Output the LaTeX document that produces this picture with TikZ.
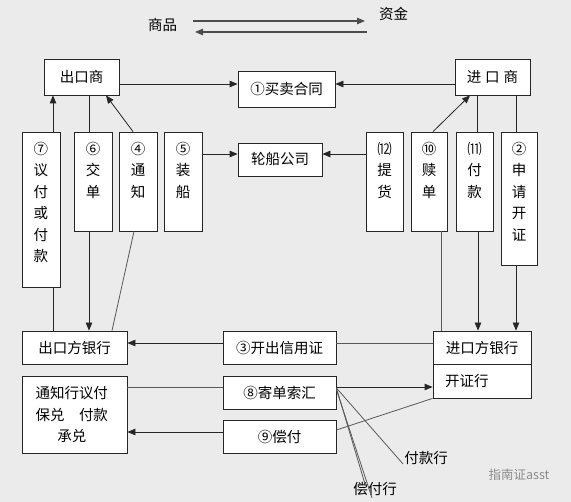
\documentclass[tikz,border=0pt]{standalone}
\usepackage{fontspec}
\setmainfont{Noto Sans CJK SC}
\usetikzlibrary{arrows.meta}
\definecolor{bgc}{RGB}{235,235,235}
\begin{document}
\begin{tikzpicture}[x=1pt,y=-1pt,
  box/.style={draw=black!85, fill=white, line width=0.8pt, inner sep=0pt, font=\fontsize{14.5}{21.5}\selectfont},
  vtxt/.style={inner sep=0pt, align=center, font=\fontsize{14.5}{21.5}\selectfont, anchor=north},
  lbl/.style={inner sep=0pt, font=\fontsize{14.5}{21.5}\selectfont},
  conn/.style={draw=black!85, line width=0.8pt},
  pale/.style={draw=black!65, line width=0.8pt},
  arr/.style={conn, -{Triangle[length=8pt,width=6.5pt]}}]
\fill[bgc] (0,0) rectangle (571,502);
\useasboundingbox (0,0) rectangle (571,502);

% legend
\node[lbl] (sp) at (162.5,25) {商品};
\node[lbl] (zj) at (393.5,14) {资金};
\coordinate (l1a) at (193,21); \coordinate (l1b) at (365,21);
\coordinate (l2a) at (367,32); \coordinate (l2b) at (195,32);
\draw[arr, draw=black!70, line width=1.2pt] (l1a) -- (l1b);
\draw[arr, draw=black!70, line width=1.2pt] (l2a) -- (l2b);

% top row
\node[box, minimum width=75pt, minimum height=36pt] (ck) at (81.5,77) {出口商};
\node[box, minimum width=97pt, minimum height=36pt] (ht) at (286.5,89) {①买卖合同};
\node[box, minimum width=75pt, minimum height=36pt] (jk) at (492.5,77) {进\hspace{4pt}口\hspace{4pt}商};
\node[box, minimum width=84pt, minimum height=33pt] (lc) at (280,159.5) {轮船公司};

% vertical boxes
\node[box, minimum width=38pt, minimum height=155pt] (b7) at (41,209.5) {};
\node[box, minimum width=38pt, minimum height=99pt] (b6) at (93,181.5) {};
\node[box, minimum width=38pt, minimum height=99pt] (b4) at (138,181.5) {};
\node[box, minimum width=38pt, minimum height=99pt] (b5) at (183,181.5) {};
\node[box, minimum width=37pt, minimum height=99pt] (b12) at (384.5,181.5) {};
\node[box, minimum width=36pt, minimum height=99pt] (b10) at (429,181.5) {};
\node[box, minimum width=37pt, minimum height=99pt] (b11) at (474.5,181.5) {};
\node[box, minimum width=36pt, minimum height=133pt] (b2) at (519,198.5) {};
\node[vtxt] (t7) at (41,142) {⑦\\议\\付\\或\\付\\款};
\node[vtxt] (t6) at (93,142) {⑥\\交\\单};
\node[vtxt] (t4) at (138,142) {④\\通\\知};
\node[vtxt] (t5) at (183,142) {⑤\\装\\船};
\node[vtxt] (t12) at (384.5,142) {⑿\\提\\货};
\node[vtxt] (t10) at (429,142) {⑩\\赎\\单};
\node[vtxt] (t11) at (474.5,142) {⑾\\付\\款};
\node[vtxt] (t2) at (519,142) {②\\申\\请\\开\\证};

% bottom rows
\node[box, minimum width=105pt, minimum height=33pt] (ckb) at (74.5,347.5) {出口方银行};
\node[box, minimum width=113pt, minimum height=33pt] (kc) at (279.5,347.5) {③开出信用证};
\node[box, minimum width=98pt, minimum height=33pt] (jb) at (482,347.5) {进口方银行};
\node[box, minimum width=98pt, minimum height=34pt, text width=74pt, align=left] (kz) at (482,381) {开证行};
\node[box, minimum width=105pt, minimum height=77pt, text width=78pt, align=left] (tz) at (74.5,414.5) {通知行议付\\保兑\hspace{1em}付款\\\makebox[5em]{承兑}};
\node[box, minimum width=113pt, minimum height=33pt] (jd) at (279.5,392.5) {⑧寄单索汇};
\node[box, minimum width=113pt, minimum height=33pt] (cf) at (279.5,436.5) {⑨偿付};

\node[lbl] (fkh) at (426,458) {付款行};
\node[lbl] (cfh) at (375,489) {偿付行};
\node[inner sep=0pt, font=\fontsize{12.5}{14}\selectfont, text=black!45] (wm) at (519,475) {指南证asst};

% connectors top
\draw[arr] ([yshift=-7pt]ck.east) -- ([yshift=5pt]ht.west);
\draw[arr] ([yshift=-7pt]jk.west) -- ([yshift=5pt]ht.east);
\draw[arr] ([xshift=12pt]b7.north) -- ([xshift=-28.5pt]ck.south);
\draw[conn] ([xshift=12pt]b7.south) -- ([xshift=-21.5pt]ckb.north);
\draw[conn] ([xshift=7.5pt]ck.south) -- ([xshift=-4pt]b6.north);
\draw[arr] ([xshift=-4pt]b6.south) -- ([xshift=14.5pt]ckb.north);
\draw[arr] ([xshift=-5pt]b4.north) -- ([xshift=24.5pt]ck.south);
\draw[pale] ([xshift=-4pt]b4.south) -- ([xshift=37.5pt]ckb.north);
\draw[arr] ([yshift=27.5pt]b5.east) -- ([yshift=5.5pt]lc.west);
\draw[arr] ([yshift=27.5pt]b12.west) -- ([yshift=5.5pt]lc.east);
\draw[arr] ([xshift=4pt]b10.north) -- ([xshift=-22.5pt]jk.south);
\draw[pale] ([xshift=12pt]b10.south) -- ([xshift=-41pt]jb.north);
\draw[conn] ([xshift=-15.5pt]jk.south) -- ([xshift=2.5pt]b11.north);
\draw[arr] ([xshift=3.5pt]b11.south) -- ([xshift=-4pt]jb.north);
\draw[conn] ([xshift=23.5pt]jk.south) -- ([xshift=-3pt]b2.north);
\draw[arr] ([xshift=-3pt]b2.south) -- ([xshift=34pt]jb.north);

% connectors bottom
\draw[pale] ([yshift=4.5pt]jb.west) -- ([yshift=4.5pt]kc.east);
\draw[arr] ([yshift=4.5pt]kc.west) -- ([yshift=4.5pt]ckb.east);
\draw[pale] ([yshift=27.5pt]tz.east) -- ([yshift=5.5pt]jd.west);
\draw[arr] ([yshift=5.5pt]jd.east) -- ([yshift=-6pt]kz.west);
\draw[pale] (kz.south west) -- ([yshift=6.5pt]cf.east);
\draw[arr] ([yshift=4.5pt]cf.west) -- ([yshift=-17.5pt]tz.east);
\coordinate (c1) at (365,484);
\coordinate (c2) at (372,498);
\draw[pale] ([yshift=4.5pt]jd.east) -- ([shift={(-1pt,-6pt)}]fkh.west);
\draw[pale] ([yshift=4.5pt]jd.east) -- (c1);
\draw[pale] ([yshift=3pt]jd.east) -- (c2);
\end{tikzpicture}
\end{document}
